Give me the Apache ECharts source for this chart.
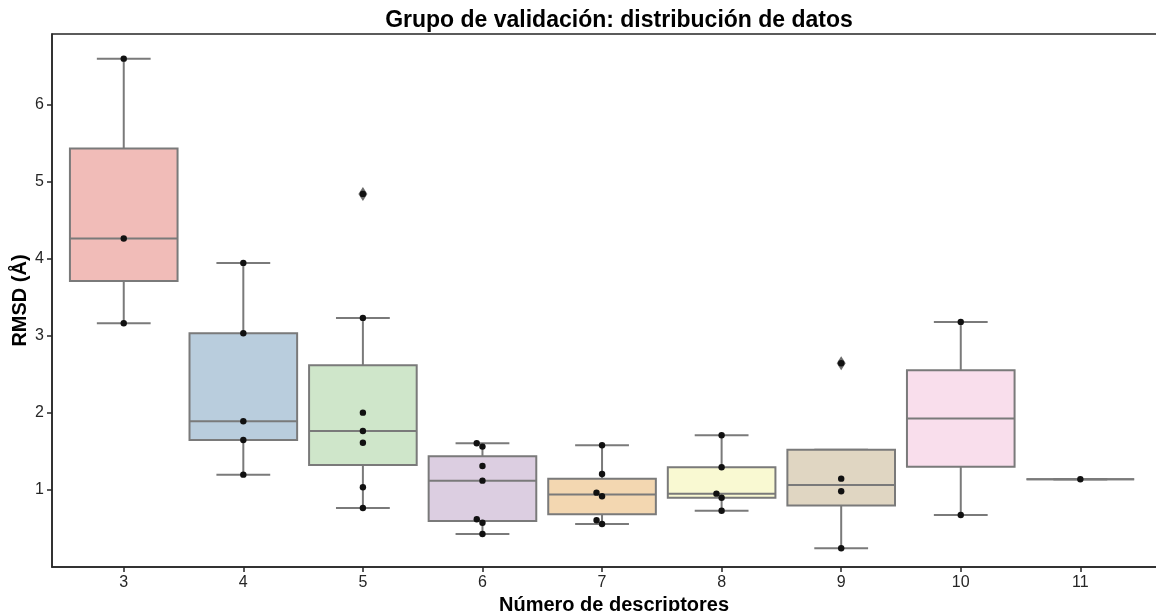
<!DOCTYPE html>
<html>
<head>
<meta charset="utf-8">
<title>Grupo de validación</title>
<script src="https://cdn.jsdelivr.net/npm/echarts@6/dist/echarts.min.js"></script>
<style>
  html, body { margin: 0; padding: 0; background: #ffffff; }
  #chart { width: 1156px; height: 611px; }
</style>
</head>
<body>
<div id="chart"></div>
<script>
// Number of descriptors (x categories)
const categories = ['3', '4', '5', '6', '7', '8', '9', '10', '11'];

// RMSD (Å) observations for each descriptor count
const rmsd3  = [6.60, 4.264, 3.165];
const rmsd4  = [3.948, 3.035, 1.892, 1.649, 1.199];
const rmsd5  = [4.844, 3.234, 2.004, 1.766, 1.614, 1.035, 0.766];
const rmsd6  = [1.606, 1.563, 1.312, 1.121, 0.619, 0.575, 0.429];
const rmsd7  = [1.580, 1.208, 0.965, 0.918, 0.606, 0.558];
const rmsd8  = [1.710, 1.295, 0.952, 0.899, 0.731];
const rmsd9  = [2.645, 1.147, 0.983, 0.243];
const rmsd10 = [3.182, 0.675];
const rmsd11 = [1.139];

const groups = [rmsd3, rmsd4, rmsd5, rmsd6, rmsd7, rmsd8, rmsd9, rmsd10, rmsd11];

// Box fill colours (softened pastel palette)
const boxColors = ['#f1bcb8', '#b9cddd', '#cfe6ca', '#dccee1', '#f3d7b1',
                   '#f9f9d2', '#e0d6c2', '#f9deec', '#f2f2f2'];

const yTicks = [1, 2, 3, 4, 5, 6];
const xTicks = categories.map((_, i) => i);

const LINE_GRAY = '#7a7a7a';
const AXIS_COLOR = '#262626';
const FONT = 'Liberation Sans, Arial, sans-serif';
const BOX_WIDTH = 0.9;      // in category units
const DOT_R = 3.2;          // swarm dot radius (px)

// numpy-style linear quantile
function quantile(sorted, p) {
  const pos = (sorted.length - 1) * p;
  const lo = Math.floor(pos);
  const hi = Math.min(lo + 1, sorted.length - 1);
  return sorted[lo] + (sorted[hi] - sorted[lo]) * (pos - lo);
}

function boxStats(values) {
  const s = values.slice().sort((a, b) => a - b);
  const q1 = quantile(s, 0.25), med = quantile(s, 0.5), q3 = quantile(s, 0.75);
  const iqr = q3 - q1;
  const hiLim = q3 + 1.5 * iqr, loLim = q1 - 1.5 * iqr;
  const inside = s.filter(v => v >= loLim && v <= hiLim);
  let whisHi = Math.max.apply(null, inside);
  let whisLo = Math.min.apply(null, inside);
  if (whisHi < q3) whisHi = q3;
  if (whisLo > q1) whisLo = q1;
  const fliers = s.filter(v => v < whisLo || v > whisHi);
  return { q1, med, q3, whisHi, whisLo, fliers };
}

// Beeswarm layout in pixel space: lower values placed first, each new dot
// takes the closest free position to the centre line.
function swarmOffsets(ys, d) {
  const order = ys.map((y, i) => i).sort((a, b) => ys[b] - ys[a]); // ascending value
  const xs = new Array(ys.length).fill(0);
  const placed = [];
  order.forEach(i => {
    const y = ys[i];
    const cands = [0];
    let leftFirst = true;
    placed.forEach(j => {
      const dy = y - ys[j];
      if (Math.abs(dy) < d) {
        const dx = Math.sqrt(Math.max(d * d - dy * dy, 0)) * 1.05;
        const l = xs[j] - dx, r = xs[j] + dx;
        if (leftFirst) cands.push(l, r); else cands.push(r, l);
        leftFirst = !leftFirst;
      }
    });
    const sorted = cands.map((c, k) => ({ c, k }))
      .sort((a, b) => (Math.abs(a.c) - Math.abs(b.c)) || (a.k - b.k));
    for (const cand of sorted) {
      const ok = placed.every(j => {
        const dx = cand.c - xs[j], dy = y - ys[j];
        return dx * dx + dy * dy >= d * d - 1e-6;
      });
      if (ok) { xs[i] = cand.c; break; }
    }
    placed.push(i);
  });
  return xs;
}

const boxData = groups.map((_, i) => [i]);
const pointData = [];
groups.forEach((vals, gi) => vals.forEach((v, k) => pointData.push([gi, v, k])));

function renderBox(params, api) {
  const gi = api.value(0);
  const st = boxStats(groups[gi]);
  const w = api.size([BOX_WIDTH, 0])[0];
  const cx = api.coord([gi, 0])[0];
  const y = v => api.coord([gi, v])[1];
  const lineStyle = { stroke: LINE_GRAY, lineWidth: 2, fill: null };
  const children = [
    { type: 'line', shape: { x1: cx, y1: y(st.q3), x2: cx, y2: y(st.whisHi) }, style: lineStyle },
    { type: 'line', shape: { x1: cx, y1: y(st.q1), x2: cx, y2: y(st.whisLo) }, style: lineStyle },
    { type: 'line', shape: { x1: cx - w / 4, y1: y(st.whisHi), x2: cx + w / 4, y2: y(st.whisHi) }, style: lineStyle },
    { type: 'line', shape: { x1: cx - w / 4, y1: y(st.whisLo), x2: cx + w / 4, y2: y(st.whisLo) }, style: lineStyle },
    { type: 'rect', shape: { x: cx - w / 2, y: y(st.q3), width: w, height: y(st.q1) - y(st.q3) },
      style: { fill: boxColors[gi], stroke: LINE_GRAY, lineWidth: 2 } },
    { type: 'line', shape: { x1: cx - w / 2, y1: y(st.med), x2: cx + w / 2, y2: y(st.med) }, style: lineStyle }
  ];
  st.fliers.forEach(f => {
    const fy = y(f);
    children.push({
      type: 'polygon',
      shape: { points: [[cx, fy - 7], [cx + 4.5, fy], [cx, fy + 7], [cx - 4.5, fy]] },
      style: { fill: '#6b6b6b', stroke: null }
    });
  });
  return { type: 'group', children };
}

function renderPoint(params, api) {
  const gi = api.value(0);
  const k = api.value(2);
  const vals = groups[gi];
  const ys = vals.map(v => api.coord([gi, v])[1]);
  const offs = swarmOffsets(ys, DOT_R * 2);
  const cx = api.coord([gi, 0])[0];
  return {
    type: 'circle',
    shape: { cx: cx + offs[k], cy: ys[k], r: DOT_R },
    style: { fill: '#111111', stroke: null }
  };
}

const chart = echarts.init(document.getElementById('chart'));
chart.setOption({
  backgroundColor: '#ffffff',
  animation: false,
  title: {
    text: 'Grupo de validación: distribución de datos',
    left: 614,
    top: 4,
    textAlign: 'center',
    textStyle: { fontFamily: FONT, fontSize: 23, fontWeight: 'bold', color: '#000' }
  },
  grid: {
    left: 52, top: 34, width: 1124, height: 533,
    containLabel: false,
    outerBoundsMode: 'none',
    show: true, borderColor: AXIS_COLOR, borderWidth: 1.5, backgroundColor: 'transparent'
  },
  xAxis: {
    type: 'value',
    min: -0.6, max: 8.8,
    name: 'Número de descriptores',
    nameLocation: 'middle',
    nameGap: 25,
    nameTextStyle: { fontFamily: FONT, fontSize: 20, fontWeight: 'bold', color: '#000' },
    axisLine: { show: true, onZero: false, lineStyle: { color: AXIS_COLOR, width: 1.5 } },
    axisTick: { show: true, customValues: xTicks, length: 5, lineStyle: { color: AXIS_COLOR, width: 1.5 } },
    axisLabel: {
      customValues: xTicks,
      formatter: v => categories[Math.round(v)],
      fontFamily: FONT, fontSize: 16, color: '#262626', margin: 8
    },
    splitLine: { show: false }
  },
  yAxis: {
    type: 'value',
    min: 0, max: 6.92,
    name: 'RMSD (Å)',
    nameLocation: 'middle',
    nameMoveOverlap: false,
    nameGap: 22,
    nameRotate: 90,
    nameTextStyle: { fontFamily: FONT, fontSize: 20, fontWeight: 'bold', color: '#000' },
    axisLine: { show: true, onZero: false, lineStyle: { color: AXIS_COLOR, width: 1.5 } },
    axisTick: { show: true, customValues: yTicks, length: 5, lineStyle: { color: AXIS_COLOR, width: 1.5 } },
    axisLabel: {
      customValues: yTicks,
      fontFamily: FONT, fontSize: 16, color: '#262626', margin: 8
    },
    splitLine: { show: false }
  },
  series: [
    {
      type: 'custom',
      name: 'box',
      renderItem: renderBox,
      data: boxData,
      encode: { x: 0 },
      clip: false,
      z: 2
    },
    {
      type: 'custom',
      name: 'puntos',
      renderItem: renderPoint,
      data: pointData,
      encode: { x: 0, y: 1 },
      z: 3
    }
  ]
});
</script>
</body>
</html>
